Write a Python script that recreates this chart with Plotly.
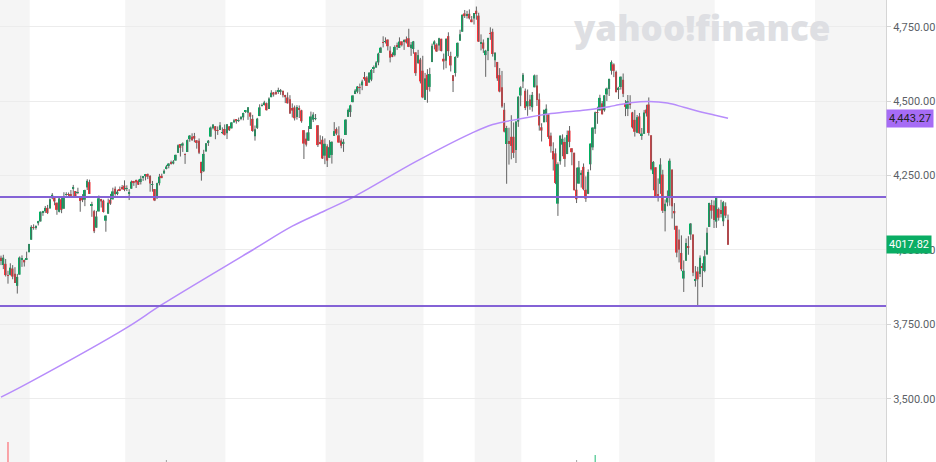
import pandas as pd
import plotly.graph_objects as go

# ---------------- data ----------------
holidays = ["2021-04-02", "2021-05-31", "2021-07-05", "2021-09-06", "2021-11-25",
            "2021-12-24", "2022-01-17", "2022-02-21", "2022-04-15", "2022-05-30"]
dates = [d.strftime("%Y-%m-%d") for d in pd.bdate_range("2021-03-16", "2022-06-09")
         if d.strftime("%Y-%m-%d") not in holidays]

opens = [
    # Mar 2021
    3973.59, 3949.57, 3953.50, 3913.14, 3916.48, 3937.60, 3919.93, 3879.34, 3917.12, 3969.31, 3963.34, 3967.25,
    # Apr 2021
    3992.78, 4034.44, 4075.57, 4074.29, 4089.95, 4096.11, 4124.71, 4130.10, 4141.58, 4139.76, 4174.14, 4179.80,
    4159.18, 4128.42, 4170.46, 4138.78, 4185.03, 4188.25, 4185.14, 4206.14, 4198.10,
    # May 2021
    4191.98, 4179.04, 4177.06, 4169.14, 4210.34, 4228.29, 4150.34, 4130.55, 4074.99, 4129.58, 4169.92, 4165.94,
    4098.45, 4121.97, 4168.61, 4170.16, 4205.94, 4191.59, 4201.94, 4210.77,
    # Jun 2021
    4216.52, 4206.82, 4191.43, 4206.05, 4229.34, 4233.81, 4232.99, 4228.56, 4242.90, 4248.31, 4255.28, 4248.87,
    4220.37, 4204.78, 4173.40, 4224.61, 4249.27, 4256.97, 4274.45, 4284.90, 4293.21, 4290.65,
    # Jul 2021
    4300.73, 4326.60, 4356.46, 4351.01, 4321.07, 4329.38, 4372.41, 4381.07, 4380.11, 4369.02, 4367.43, 4296.40,
    4265.11, 4331.13, 4361.27, 4381.20, 4409.58, 4416.38, 4402.95, 4403.59, 4395.12,
    # Aug 2021
    4406.86, 4392.74, 4415.95, 4408.86, 4429.07, 4437.77, 4435.79, 4442.18, 4446.08, 4464.84, 4461.65, 4462.12,
    4440.94, 4382.44, 4410.56, 4450.29, 4484.40, 4490.45, 4493.75, 4474.10, 4513.76, 4529.75,
    # Sep 2021
    4528.80, 4534.48, 4532.42, 4535.38, 4518.09, 4513.02, 4506.92, 4474.81, 4479.33, 4447.49, 4477.09, 4469.74,
    4402.95, 4374.45, 4367.43, 4406.75, 4438.04, 4442.12, 4419.54, 4362.41, 4370.67,
    # Oct 2021
    4317.16, 4348.84, 4309.87, 4319.57, 4383.73, 4406.51, 4385.44, 4368.31, 4358.01, 4386.75, 4447.69, 4463.72,
    4497.34, 4524.42, 4532.24, 4546.12, 4553.69, 4578.69, 4580.22, 4562.84, 4572.87,
    # Nov 2021
    4610.62, 4613.34, 4630.65, 4662.93, 4699.26, 4701.48, 4707.25, 4670.26, 4659.39, 4655.24, 4689.30, 4679.42,
    4701.50, 4700.72, 4708.44, 4712.00, 4678.48, 4675.78, 4664.63, 4628.75, 4640.25,
    # Dec 2021
    4602.82, 4504.73, 4589.49, 4548.37, 4631.97, 4690.86, 4691.00, 4687.64, 4710.30, 4642.99, 4636.46, 4719.13,
    4652.50, 4587.90, 4594.96, 4650.36, 4703.96, 4733.99, 4795.49, 4788.64, 4794.23, 4775.21,
    # Jan 2022
    4778.14, 4804.51, 4787.99, 4693.39, 4697.66, 4655.34, 4669.14, 4728.59, 4733.56, 4637.99, 4632.24, 4588.03,
    4547.35, 4471.38, 4356.32, 4366.64, 4380.58, 4380.58, 4336.19, 4431.79,
    # Feb 2022
    4519.57, 4566.39, 4535.41, 4482.79, 4505.75, 4480.02, 4547.00, 4553.24, 4506.27, 4412.61, 4429.28, 4455.75,
    4456.06, 4384.57, 4332.74, 4324.93, 4155.77, 4298.38, 4354.17,
    # Mar 2022
    4363.14, 4322.56, 4401.31, 4342.12, 4327.01, 4202.66, 4223.10, 4252.55, 4279.50, 4202.75, 4188.82, 4288.14,
    4345.11, 4407.34, 4462.40, 4469.10, 4493.10, 4469.98, 4522.91, 4541.09, 4602.86, 4624.20, 4599.02,
    # Apr 2022
    4540.32, 4547.97, 4572.45, 4494.17, 4474.65, 4494.15, 4462.64, 4437.59, 4394.30, 4449.12, 4385.63, 4390.63,
    4472.26, 4489.17, 4385.83, 4255.34, 4278.14, 4186.52, 4222.58, 4253.75,
    # May 2022
    4130.61, 4159.78, 4181.18, 4270.43, 4128.17, 4081.27, 4035.18, 3990.08, 3903.95, 3963.90, 4013.02, 4052.00,
    4051.98, 3899.00, 3927.76, 3919.42, 3942.94, 3929.59, 3984.60, 4077.43, 4151.09,
    # Jun 2022
    4149.78, 4095.41, 4137.57, 4134.72, 4096.47, 4147.12, 4101.65,
]

highs = [
    3981.04, 3983.87, 3969.62, 3930.12, 3955.31, 3949.13, 3942.08, 3919.54, 3978.19, 3981.83, 3968.01, 3994.41,
    4020.63, 4083.42, 4086.23, 4083.13, 4098.19, 4129.48, 4131.76, 4148.00, 4151.69, 4173.49, 4191.31, 4180.81,
    4159.18, 4175.02, 4179.57, 4194.17, 4194.19, 4193.35, 4201.53, 4218.78, 4198.10,
    4209.39, 4179.04, 4187.72, 4202.70, 4238.04, 4236.39, 4162.04, 4134.73, 4131.58, 4183.13, 4171.92, 4169.15,
    4116.93, 4172.80, 4188.72, 4209.52, 4213.42, 4202.61, 4213.38, 4218.36,
    4234.12, 4217.37, 4204.39, 4233.45, 4232.34, 4236.74, 4237.09, 4249.74, 4248.38, 4255.59, 4257.16, 4251.89,
    4232.29, 4204.78, 4226.24, 4255.84, 4256.60, 4271.28, 4286.12, 4292.14, 4300.52, 4302.43,
    4320.66, 4355.43, 4356.46, 4361.88, 4324.81, 4371.60, 4386.68, 4392.37, 4393.68, 4369.02, 4375.09, 4296.40,
    4336.84, 4359.70, 4369.87, 4415.18, 4422.73, 4416.38, 4415.47, 4429.97, 4412.25,
    4422.18, 4423.79, 4416.17, 4429.76, 4440.82, 4439.39, 4445.21, 4449.44, 4461.77, 4468.37, 4480.26, 4462.12,
    4454.32, 4418.61, 4444.35, 4489.88, 4492.81, 4501.71, 4495.90, 4513.33, 4537.36, 4531.39,
    4537.11, 4545.85, 4541.45, 4535.38, 4521.79, 4529.90, 4520.47, 4492.99, 4485.68, 4486.87, 4485.87, 4471.52,
    4402.95, 4394.87, 4416.75, 4465.40, 4463.12, 4457.30, 4419.54, 4385.57, 4382.55,
    4375.19, 4355.51, 4369.23, 4365.57, 4429.97, 4412.02, 4415.88, 4374.89, 4372.87, 4439.73, 4475.82, 4488.75,
    4520.40, 4540.87, 4551.44, 4559.67, 4572.62, 4598.53, 4584.57, 4597.55, 4608.08,
    4620.34, 4635.15, 4663.46, 4683.00, 4718.50, 4714.92, 4708.53, 4684.85, 4664.55, 4688.47, 4697.42, 4714.95,
    4701.50, 4708.80, 4717.75, 4743.83, 4699.39, 4702.87, 4664.63, 4672.95, 4646.02,
    4652.94, 4595.46, 4608.03, 4612.60, 4694.04, 4705.06, 4695.26, 4713.57, 4710.30, 4660.47, 4712.60, 4731.99,
    4666.70, 4587.90, 4651.14, 4697.67, 4740.74, 4791.49, 4807.02, 4804.06, 4808.93, 4786.83,
    4796.64, 4818.62, 4797.70, 4725.01, 4707.95, 4673.02, 4714.13, 4748.83, 4744.13, 4665.13, 4632.24, 4611.55,
    4602.11, 4494.52, 4417.35, 4411.01, 4453.23, 4428.74, 4432.72, 4516.89,
    4550.49, 4595.31, 4542.88, 4539.66, 4521.86, 4531.32, 4590.03, 4588.92, 4526.33, 4426.22, 4472.77, 4489.55,
    4456.06, 4394.60, 4362.12, 4341.51, 4294.73, 4385.34, 4388.84,
    4378.45, 4401.48, 4416.78, 4342.12, 4327.01, 4276.94, 4299.40, 4268.28, 4291.01, 4247.57, 4271.05, 4357.86,
    4412.67, 4465.40, 4481.75, 4522.00, 4501.07, 4520.58, 4546.03, 4575.65, 4637.30, 4627.77, 4603.07,
    4548.70, 4583.50, 4593.45, 4503.94, 4521.16, 4520.41, 4464.35, 4471.00, 4453.92, 4460.46, 4410.31, 4471.03,
    4488.29, 4512.94, 4385.83, 4299.02, 4278.14, 4240.71, 4308.45, 4269.68,
    4169.81, 4200.10, 4307.66, 4270.43, 4157.69, 4081.27, 4068.82, 4049.09, 3964.80, 4038.88, 4046.46, 4090.72,
    4051.98, 3945.96, 3943.42, 3981.88, 3955.68, 3999.33, 4075.14, 4158.49, 4168.34,
    4166.54, 4177.51, 4142.67, 4168.78, 4164.86, 4160.14, 4119.10,
]

lows = [
    3949.13, 3935.74, 3910.86, 3886.75, 3914.16, 3901.57, 3889.07, 3853.50, 3917.12, 3943.25, 3944.35, 3966.98,
    3992.78, 4034.44, 4068.14, 4068.31, 4082.54, 4095.51, 4114.82, 4124.43, 4120.87, 4139.76, 4170.75, 4150.47,
    4118.38, 4126.35, 4123.69, 4138.78, 4182.36, 4176.22, 4181.78, 4176.81, 4174.85,
    4188.03, 4128.59, 4160.94, 4147.33, 4201.64, 4188.13, 4111.53, 4056.88, 4074.99, 4129.58, 4142.69, 4125.99,
    4061.41, 4121.97, 4151.72, 4170.16, 4182.52, 4184.11, 4197.78, 4203.57,
    4197.59, 4198.27, 4167.93, 4206.05, 4215.66, 4208.41, 4218.74, 4220.34, 4232.25, 4234.07, 4238.35, 4195.99,
    4196.05, 4164.40, 4173.40, 4217.27, 4241.43, 4256.97, 4271.16, 4274.67, 4287.04, 4287.96,
    4300.73, 4326.60, 4314.37, 4329.79, 4289.52, 4329.38, 4364.03, 4366.92, 4362.36, 4340.70, 4322.53, 4233.13,
    4262.05, 4331.13, 4350.06, 4381.20, 4405.45, 4372.51, 4387.01, 4403.59, 4389.65,
    4384.81, 4373.00, 4400.23, 4408.86, 4429.07, 4424.74, 4430.03, 4436.42, 4435.96, 4460.82, 4437.66, 4417.83,
    4397.59, 4367.73, 4406.80, 4450.29, 4482.28, 4485.66, 4468.99, 4474.10, 4513.76, 4515.80,
    4522.02, 4524.66, 4521.79, 4513.00, 4493.95, 4492.07, 4457.66, 4445.70, 4435.46, 4438.37, 4443.80, 4427.76,
    4305.91, 4347.96, 4367.43, 4406.75, 4430.27, 4436.19, 4346.33, 4355.08, 4306.24,
    4288.52, 4278.94, 4309.87, 4290.49, 4383.73, 4386.22, 4360.59, 4342.09, 4329.92, 4386.75, 4447.69, 4447.47,
    4496.41, 4524.40, 4526.89, 4524.00, 4537.36, 4569.17, 4551.66, 4562.84, 4567.59,
    4595.06, 4613.34, 4621.19, 4662.59, 4681.32, 4694.39, 4670.87, 4630.86, 4648.31, 4650.77, 4672.86, 4679.42,
    4684.41, 4672.78, 4694.22, 4682.17, 4652.66, 4659.89, 4585.43, 4625.26, 4560.00,
    4510.27, 4504.73, 4495.12, 4532.76, 4631.97, 4674.52, 4665.98, 4670.24, 4667.60, 4606.52, 4611.22, 4651.89,
    4600.22, 4531.10, 4583.16, 4645.53, 4703.96, 4733.99, 4780.04, 4778.08, 4775.33, 4765.75,
    4758.17, 4774.27, 4699.44, 4671.26, 4662.74, 4582.24, 4638.27, 4706.71, 4650.29, 4614.75, 4568.70, 4530.20,
    4477.95, 4395.34, 4222.62, 4287.11, 4304.80, 4309.50, 4292.46, 4414.02,
    4483.53, 4544.32, 4470.39, 4451.50, 4471.47, 4465.40, 4547.00, 4484.31, 4401.41, 4364.84, 4429.28, 4429.68,
    4373.81, 4327.22, 4267.11, 4221.51, 4114.65, 4286.83, 4315.12,
    4279.54, 4322.56, 4345.56, 4284.98, 4199.85, 4157.87, 4223.10, 4209.80, 4200.49, 4161.72, 4187.90, 4267.92,
    4335.65, 4390.57, 4424.30, 4469.10, 4455.81, 4465.17, 4501.07, 4517.69, 4589.66, 4581.32, 4530.41,
    4507.57, 4539.21, 4514.17, 4450.04, 4450.30, 4474.60, 4408.38, 4381.34, 4392.70, 4390.77, 4370.30, 4390.63,
    4448.76, 4384.47, 4267.62, 4200.82, 4175.04, 4162.90, 4188.63, 4124.28,
    4062.51, 4147.08, 4148.91, 4106.01, 4067.91, 3975.48, 3958.17, 3928.82, 3858.87, 3963.90, 3983.99, 4033.93,
    3911.91, 3876.58, 3810.32, 3909.04, 3875.13, 3925.03, 3984.60, 4077.43, 4104.88,
    4073.85, 4074.37, 4098.67, 4109.18, 4080.19, 4107.20, 4017.17,
]

closes = [
    3962.71, 3974.12, 3915.46, 3913.10, 3940.59, 3910.52, 3889.14, 3909.52, 3974.54, 3971.09, 3958.55, 3972.89,
    4019.87, 4077.91, 4073.94, 4079.95, 4097.17, 4128.80, 4127.99, 4141.59, 4124.66, 4170.42, 4185.47, 4163.26,
    4134.94, 4173.42, 4134.98, 4180.17, 4187.62, 4186.72, 4183.18, 4211.47, 4181.17,
    4192.66, 4164.66, 4167.59, 4201.62, 4232.60, 4188.43, 4152.10, 4063.04, 4112.50, 4173.85, 4163.29, 4127.83,
    4115.68, 4159.12, 4155.86, 4197.05, 4188.13, 4195.99, 4200.88, 4204.11,
    4202.04, 4208.12, 4192.85, 4229.89, 4226.52, 4227.26, 4219.55, 4239.18, 4247.44, 4255.15, 4246.59, 4223.70,
    4221.86, 4166.45, 4224.79, 4246.44, 4241.84, 4266.49, 4280.70, 4290.61, 4291.80, 4297.50,
    4319.94, 4352.34, 4343.54, 4358.13, 4320.82, 4369.55, 4384.63, 4369.21, 4374.30, 4360.03, 4327.16, 4258.49,
    4323.06, 4358.69, 4367.48, 4411.79, 4422.30, 4401.46, 4400.64, 4419.15, 4395.26,
    4387.16, 4423.15, 4402.66, 4429.10, 4436.52, 4432.35, 4436.75, 4447.70, 4460.83, 4468.00, 4479.71, 4448.08,
    4400.27, 4405.80, 4441.67, 4479.53, 4486.23, 4496.19, 4470.00, 4509.37, 4528.79, 4522.68,
    4524.09, 4536.95, 4535.43, 4520.03, 4514.07, 4493.28, 4458.58, 4468.73, 4443.05, 4480.70, 4473.75, 4432.99,
    4357.73, 4354.19, 4395.64, 4448.98, 4455.48, 4443.11, 4352.63, 4359.46, 4307.54,
    4357.04, 4300.46, 4345.72, 4363.55, 4399.76, 4391.34, 4361.19, 4350.65, 4363.80, 4438.26, 4471.37, 4486.46,
    4519.63, 4536.19, 4549.78, 4544.90, 4566.48, 4574.79, 4551.68, 4596.42, 4605.38,
    4613.67, 4630.65, 4660.57, 4680.06, 4697.53, 4701.70, 4685.25, 4646.71, 4649.27, 4682.85, 4682.80, 4700.90,
    4688.67, 4704.54, 4697.96, 4682.94, 4690.70, 4701.46, 4594.62, 4655.27, 4567.00,
    4513.04, 4577.10, 4538.43, 4591.67, 4686.75, 4701.21, 4667.45, 4712.02, 4668.97, 4634.09, 4709.85, 4668.67,
    4620.64, 4568.02, 4649.23, 4696.56, 4725.79, 4791.19, 4786.35, 4793.06, 4778.73, 4766.18,
    4796.56, 4793.54, 4700.58, 4696.05, 4677.03, 4670.29, 4713.07, 4726.35, 4659.03, 4662.85, 4577.11, 4532.76,
    4482.73, 4397.94, 4410.13, 4356.45, 4349.93, 4326.51, 4431.85, 4515.55,
    4546.54, 4589.38, 4477.44, 4500.53, 4483.87, 4521.54, 4587.18, 4504.08, 4418.64, 4401.67, 4471.07, 4475.01,
    4380.26, 4348.87, 4304.76, 4225.50, 4288.70, 4384.65, 4373.94,
    4306.26, 4386.54, 4363.49, 4328.87, 4201.09, 4170.70, 4277.88, 4259.52, 4204.31, 4173.11, 4262.45, 4357.86,
    4411.67, 4463.12, 4461.18, 4511.61, 4456.24, 4520.16, 4543.06, 4575.52, 4631.60, 4602.45, 4530.41,
    4545.86, 4582.64, 4525.12, 4481.15, 4500.21, 4488.28, 4412.53, 4397.45, 4446.59, 4392.59, 4391.69, 4462.21,
    4459.45, 4393.66, 4271.78, 4296.12, 4175.20, 4183.96, 4287.50, 4131.93,
    4155.38, 4175.48, 4300.17, 4146.87, 4123.34, 3991.24, 4001.05, 3935.18, 3930.08, 4023.89, 4008.01, 4088.85,
    3923.68, 3900.79, 3901.36, 3973.75, 3941.48, 3978.73, 4057.84, 4158.24, 4132.15,
    4101.23, 4176.82, 4108.54, 4121.43, 4160.68, 4115.77, 4017.82,
]

# 200-day moving average
ma_dates = ["2021-03-16", "2021-04-01", "2021-06-02", "2021-06-23", "2021-08-18", "2021-09-13",
            "2021-10-01", "2021-10-19", "2021-11-26", "2021-12-31", "2022-01-13", "2022-01-31",
            "2022-02-18", "2022-03-14", "2022-03-28", "2022-04-01", "2022-04-11", "2022-04-21",
            "2022-05-03", "2022-05-12", "2022-05-23", "2022-06-01", "2022-06-09"]
ma_values = [3505, 3554, 3739, 3816, 4000, 4080, 4132, 4177, 4297, 4393, 4422, 4440,
             4459, 4471, 4482, 4488, 4496, 4499, 4494, 4480, 4465, 4454, 4443.27]

# volume spikes that reach into the visible window (billions)
vol_dates = ["2021-03-19", "2021-06-25", "2022-03-08", "2022-03-18"]
vol_values = [7.4, 5.6, 5.6, 6.1]
vol_colors = ["rgba(255,60,70,0.75)", "rgba(120,120,120,0.6)", "rgba(120,120,120,0.6)", "rgba(0,176,97,0.75)"]

level_lines = [4177.8, 3812.0]
last_close = 4017.82
last_ma = 4443.27
y_ticks = [3500, 3750, 4000, 4250, 4500, 4750]

# shading alternates at these month starts (before first: shaded)
band_edges = ["2021-04-01", "2021-06-01", "2021-08-02", "2021-10-01", "2021-12-01", "2022-01-03",
              "2022-02-01", "2022-04-01", "2022-06-01", "2022-08-01"]

# ---------------- figure ----------------
UP, DOWN, WICK = "#00b061", "#ff333a", "#626262"

idx_of = {d: i for i, d in enumerate(dates)}
future = [d.strftime("%Y-%m-%d") for d in pd.bdate_range("2022-06-10", "2022-12-31")]


def pos(d):
    if d in idx_of:
        return idx_of[d]
    return len(dates) + future.index(d)


X0, X1 = -0.43, 379.8

fig = go.Figure()

wx, wy = [], []
for d, h, l in zip(dates, highs, lows):
    wx += [d, d, None]
    wy += [l, h, None]
fig.add_trace(go.Scatter(x=wx, y=wy, mode="lines", line=dict(color=WICK, width=1),
                         hoverinfo="skip", showlegend=False))

body = [c - o for o, c in zip(opens, closes)]
fig.add_trace(go.Bar(x=dates, base=opens, y=body, width=0.8,
                     marker=dict(color=[UP if b >= 0 else DOWN for b in body], line=dict(width=0)),
                     showlegend=False))

fig.add_trace(go.Scatter(x=ma_dates, y=ma_values, mode="lines",
                         line=dict(color="#b78cfb", width=1.5, shape="spline", smoothing=1.0),
                         hoverinfo="skip", showlegend=False))

fig.add_trace(go.Bar(x=vol_dates, y=vol_values, width=0.5, yaxis="y2",
                     marker=dict(color=vol_colors, line=dict(width=0)), showlegend=False))

shapes = []
edges = [X0 - 1] + [pos(d) + 0.3 for d in band_edges] + [X1 + 5]
for i in range(len(edges) - 1):
    if i % 2 == 0:
        shapes.append(dict(type="rect", xref="x", yref="paper", x0=edges[i], x1=edges[i + 1],
                           y0=0, y1=1, fillcolor="#f5f5f5", line=dict(width=0), layer="below"))
for lv in level_lines:
    shapes.append(dict(type="line", xref="paper", yref="y", x0=0, x1=1, y0=lv, y1=lv,
                       line=dict(color="#8462d6", width=2), layer="above"))

annotations = [
    dict(xref="paper", yref="paper", x=0.792, y=0.941, xanchor="center", yanchor="middle",
         text="yahoo!finance", showarrow=False,
         font=dict(family="Open Sans", size=35, color="#dedfe3", weight=800)),
    dict(xref="paper", yref="y", x=1.0, y=last_ma, xanchor="left", yanchor="middle",
         text=f"{last_ma:,.2f}", showarrow=False, bgcolor="#a66cf5", borderpad=2,
         font=dict(family="Roboto", size=11, color="#222222")),
    dict(xref="paper", yref="y", x=1.0, y=last_close, xanchor="left", yanchor="middle",
         text=f"{last_close:.2f}", showarrow=False, bgcolor="#0aad64", borderpad=2,
         font=dict(family="Roboto", size=11, color="#ffffff")),
]

fig.update_layout(
    width=936, height=462,
    margin=dict(l=0, r=50, t=0, b=0),
    paper_bgcolor="white", plot_bgcolor="white",
    barmode="overlay",
    showlegend=False,
    shapes=shapes, annotations=annotations,
    xaxis=dict(type="category", categoryorder="array", categoryarray=dates,
               range=[X0, X1], showticklabels=False, showgrid=False, zeroline=False,
               showline=False, ticks="", fixedrange=True),
    yaxis=dict(side="right", range=[3287.1, 4840.6], tickvals=y_ticks, tickformat=",.2f",
               showgrid=True, gridcolor="#ececec", gridwidth=1, zeroline=False,
               showline=True, linecolor="#d5d5d5", linewidth=1,
               ticks="outside", ticklen=4, tickcolor="#d5d5d5",
               tickfont=dict(family="Roboto", size=11, color="#5b5f66")),
    yaxis2=dict(overlaying="y", range=[5.4, 51.6], visible=False),
)

fig.write_html("out.html", config={"displayModeBar": False},
               post_script="document.body.style.margin='0';document.body.style.overflow='hidden';")
